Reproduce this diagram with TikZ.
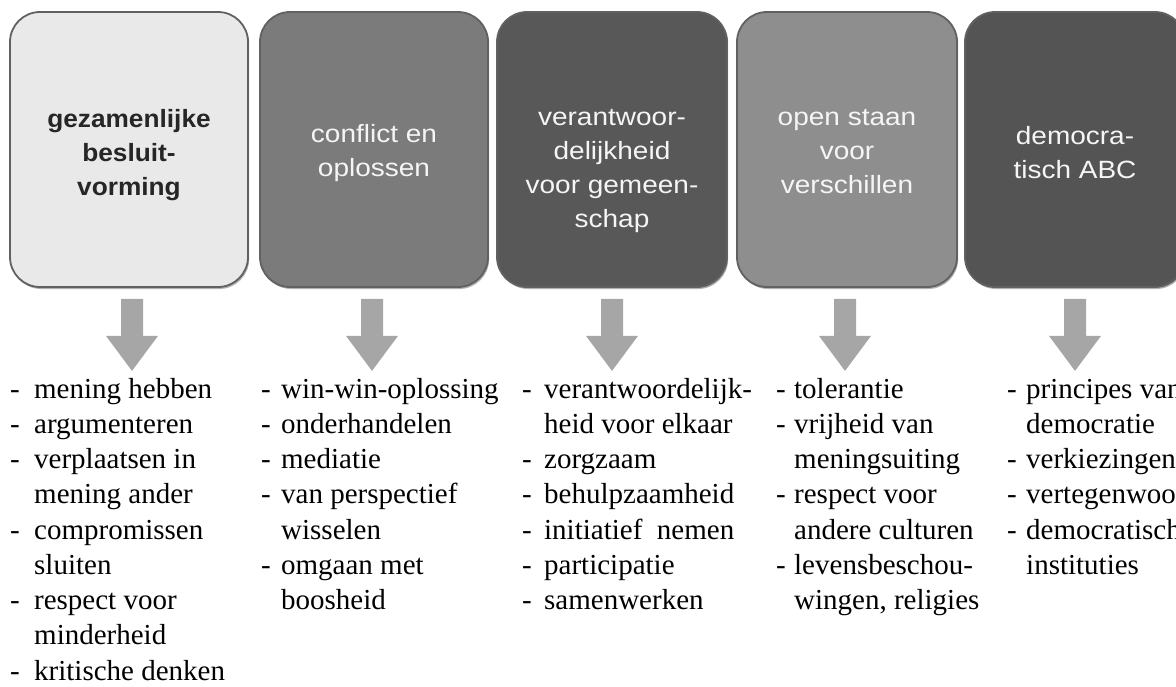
\documentclass[tikz,border=0pt]{standalone}
\usepackage{fontspec}
\newfontfamily\boxfont[FakeStretch=1.12]{Liberation Sans}
\newfontfamily\boxbold[FakeStretch=1.05]{Liberation Sans Bold}
\newfontfamily\listfont{Liberation Serif}
\usetikzlibrary{shadows}
\newlength\dashw
\newcommand\dd{\makebox[\dashw][l]{-}}
\newcommand\ii{\hspace*{\dashw}}
\newcommand\firststrut{\rule{0pt}{25pt}}
\definecolor{cardA}{HTML}{E9E9E9}
\definecolor{cardB}{HTML}{7B7B7B}
\definecolor{cardC}{HTML}{585858}
\definecolor{cardD}{HTML}{8E8E8E}
\definecolor{cardE}{HTML}{545454}
\definecolor{arrowgrey}{HTML}{A6A6A6}
\begin{document}
\begin{tikzpicture}[x=1pt,y=-1pt,
  card/.style={draw=black!62, line width=1.8pt, rounded corners=30pt,
    minimum height=275pt, inner sep=0pt,
    general shadow={shadow xshift=1.2pt, shadow yshift=-2pt, fill=black!30}},
  cardtext/.style={align=center, inner sep=0pt, text=white!96!black,
    font=\boxfont\fontsize{25}{34}\selectfont},
  blockarrow/.style={fill=arrowgrey},
  listtext/.style={anchor=north west, align=left, inner sep=0pt,
    font=\listfont\fontsize{29}{35.25}\selectfont}]
\useasboundingbox (0,0) rectangle (1176,686);
\clip (0,0) rectangle (1176,686);

% cards
\node[card, fill=cardA, minimum width=238pt] (b1) at (129,149.5) {};
\node[card, fill=cardB, minimum width=228pt] (b2) at (374,149.5) {};
\node[card, fill=cardC, minimum width=230pt] (b3) at (612,149.5) {};
\node[card, fill=cardD, minimum width=220pt] (b4) at (847,149.5) {};
\node[card, fill=cardE, minimum width=220pt] (b5) at (1075,149.5) {};

% card texts
\node[cardtext, text=black!85, font=\boxbold\fontsize{25}{34}\selectfont] (t1) at (129,155) {gezamenlijke\\besluit-\\vorming};
\node[cardtext] (t2) at (374,153) {conflict en\\oplossen};
\node[cardtext] (t3) at (612,171) {verantwoor-\\delijkheid\\voor gemeen-\\schap};
\node[cardtext] (t4) at (847,152) {open staan\\voor\\verschillen};
\node[cardtext] (t5) at (1075,153) {democra-\\tisch ABC};

% block arrows
\foreach \b/\dx in {b1/3, b2/-2, b3/0, b4/-2, b5/0}{
  \fill[blockarrow] ([xshift=\dx pt, yshift=-11pt]\b.south) ++(-11,0) -- ++(22,0) -- ++(0,37)
    -- ++(15,0) -- ++(-26,35) -- ++(-26,-35) -- ++(15,0) -- cycle;
}

% lists
\setlength\dashw{24pt}
\node[listtext] (l1) at (10,373) {\firststrut\dd mening hebben\\\dd argumenteren\\\dd verplaatsen in\\\ii mening ander\\\dd compromissen\\\ii sluiten\\\dd respect voor\\\ii minderheid\\\dd kritische denken};
\setlength\dashw{20pt}
\node[listtext] (l2) at (261,373) {\firststrut\dd win-win-oplossing\\\dd onderhandelen\\\dd mediatie\\\dd van perspectief\\\ii wisselen\\\dd omgaan met\\\ii boosheid};
\setlength\dashw{22pt}
\node[listtext] (l3) at (522,373) {\firststrut\dd verantwoordelijk-\\\ii heid voor elkaar\\\dd zorgzaam\\\dd behulpzaamheid\\\dd initiatief~~nemen\\\dd participatie\\\dd samenwerken};
\setlength\dashw{18pt}
\node[listtext] (l4) at (776,373) {\firststrut\dd tolerantie\\\dd vrijheid van\\\ii meningsuiting\\\dd respect voor\\\ii andere culturen\\\dd levensbeschou-\\\ii wingen, religies};
\setlength\dashw{19pt}
\node[listtext] (l5) at (1007,373) {\firststrut\dd principes van\\\ii democratie\\\dd verkiezingen\\\dd vertegenwoordiging\\\dd democratische\\\ii instituties};
\end{tikzpicture}
\end{document}
